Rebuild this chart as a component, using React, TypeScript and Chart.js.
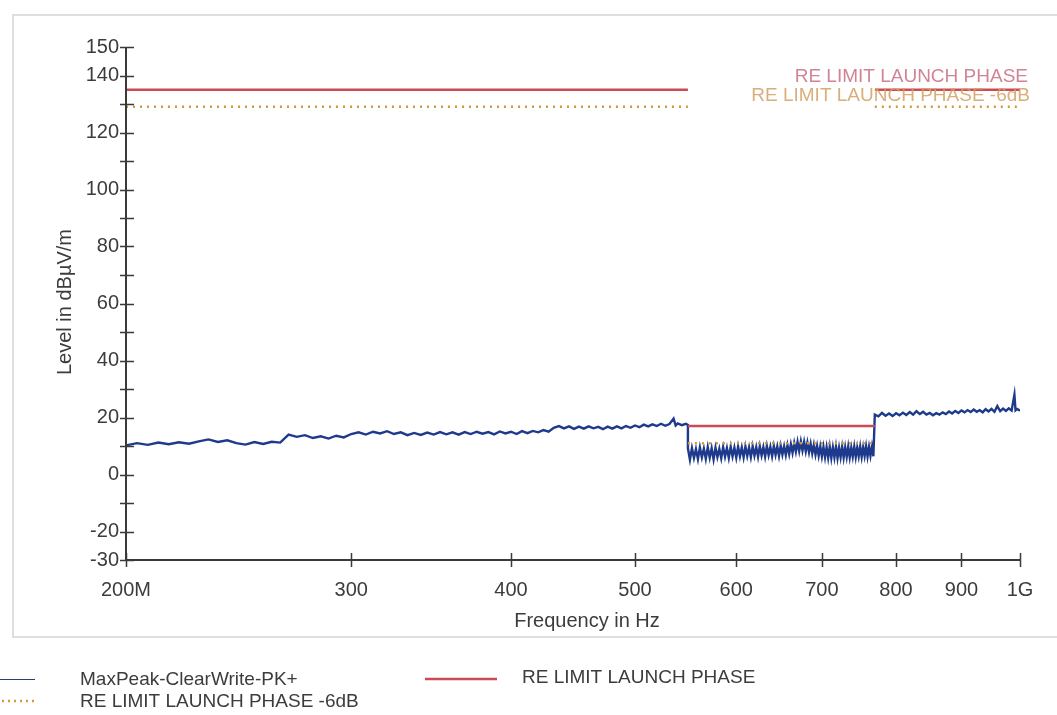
import { useEffect, useRef } from "react";
import { Chart, registerables } from "chart.js";

Chart.register(...registerables);

// ---- Data (frequency in MHz, level in dBµV/m) ----
const TRACE_FREQ = [
  200, 204, 208, 212, 216, 220, 224, 228, 232, 236, 240, 244, 248, 252, 256, 260, 264, 268, 272, 276,
  280, 284, 288, 292, 296, 300, 304, 308, 312, 316, 320, 324, 328, 332, 336, 340, 344, 348, 352, 356,
  360, 364, 368, 372, 376, 380, 384, 388, 392, 396, 400, 404, 408, 412, 416, 420, 424, 428, 432, 436,
  440, 444, 448, 452, 456, 460, 464, 468, 472, 476, 480, 484, 488, 492, 496, 500, 504, 508, 512, 516,
  520, 524, 528, 532, 536, 538, 540, 544, 548, 550,
  550, 552, 554, 556, 558, 560, 562, 564, 566, 568, 570, 572, 574, 576, 578, 580, 582, 584, 586, 588,
  590, 592, 594, 596, 598, 600, 602, 604, 606, 608, 610, 612, 614, 616, 618, 620, 622, 624, 626, 628,
  630, 632, 634, 636, 638, 640, 642, 644, 646, 648, 650, 652, 654, 656, 658, 660, 662, 664, 666, 668,
  670, 672, 674, 676, 678, 680, 682, 684, 686, 688, 690, 692, 694, 696, 698, 700, 702, 704, 706, 708,
  710, 712, 714, 716, 718, 720, 722, 724, 726, 728, 730, 732, 734, 736, 738, 740, 742, 744, 746, 748,
  750, 752, 754, 756, 758, 760, 762, 764, 766, 768,
  770, 775, 780, 785, 790, 795, 800, 805, 810, 815, 820, 825, 830, 835, 840, 845, 850, 855, 860, 865,
  870, 875, 880, 885, 890, 895, 900, 905, 910, 915, 920, 925, 930, 935, 940, 945, 950, 955, 960, 965,
  970, 975, 980, 985, 990, 992, 995, 1000,
];
const TRACE_LEVEL = [
  10.2, 11.0, 10.4, 11.2, 10.6, 11.3, 10.8, 11.6, 12.3, 11.4, 12.0, 11.0, 10.5, 11.4, 10.7, 11.5, 11.2, 14.0, 13.2, 13.8,
  12.8, 13.4, 12.6, 13.6, 13.0, 14.2, 14.8, 14.0, 15.0, 14.4, 15.2, 14.2, 14.8, 13.8, 14.6, 13.9, 14.7, 14.0, 14.9, 14.1,
  14.8, 14.0, 14.9, 14.2, 15.0, 14.3, 14.9, 14.1, 15.1, 14.4, 15.0, 14.2, 15.2, 14.5, 15.3, 14.8, 15.6, 15.0, 16.4, 17.0,
  16.2, 16.9, 16.0, 16.8, 16.1, 16.9, 16.2, 16.7, 15.9, 16.8, 16.1, 16.9, 16.2, 17.0, 16.4, 17.2, 16.6, 17.5, 16.9, 17.6,
  17.0, 17.8, 17.1, 17.7, 19.6, 17.2, 17.9, 17.3, 17.8, 17.4,
  9.2, 5.2, 9.3, 5.8, 8.9, 5.4, 9.5, 6.0, 9.1, 5.5, 9.6, 5.9, 9.2, 5.3, 9.4, 6.1, 9.0, 5.7, 9.6, 6.2,
  9.3, 5.8, 9.7, 6.3, 9.4, 5.9, 9.8, 6.4, 9.5, 6.0, 9.8, 6.5, 9.5, 6.1, 9.9, 6.6, 9.6, 6.2, 9.9, 6.7,
  9.6, 6.3, 10.0, 6.8, 9.7, 6.4, 10.0, 6.9, 9.8, 6.5, 10.1, 7.0, 9.9, 6.8, 10.3, 7.2, 10.6, 7.6, 11.0, 8.0,
  11.4, 8.2, 11.6, 8.4, 11.4, 8.1, 11.2, 7.8, 10.8, 7.4, 10.4, 7.0, 10.0, 6.6, 9.8, 6.3, 9.7, 6.1, 9.6, 5.9,
  9.7, 5.8, 9.5, 6.0, 9.8, 5.8, 9.4, 6.1, 9.7, 5.9, 9.5, 6.2, 9.8, 6.0, 9.4, 6.3, 9.8, 6.1, 9.5, 6.4,
  9.8, 6.2, 9.6, 6.5, 9.9, 6.3, 9.7, 6.6, 9.8, 6.4,
  21.0, 20.4, 21.6, 20.6, 21.4, 20.5, 21.5, 20.8, 21.7, 20.9, 21.9, 21.0, 22.2, 21.2, 22.0, 21.0, 21.6, 20.8, 21.5, 21.0,
  21.8, 21.2, 22.1, 21.4, 22.3, 21.6, 22.5, 21.8, 22.6, 21.9, 22.8, 22.0, 22.6, 21.8, 22.9, 22.1, 23.0, 22.0, 24.0, 22.2,
  23.1, 22.3, 23.2, 22.4, 28.0, 22.5, 23.0, 22.4,
];

const LIMIT_FREQ = [200, 550, 550, 550, 770, 770, 770, 1000];
const LIMIT_LEVEL = [135, 135, null, 17, 17, null, 135, 135];
const LIMIT6_LEVEL = [129, 129, null, 11, 11, null, 129, 129];

const X_TICKS = [200, 300, 400, 500, 600, 700, 800, 900, 1000];
const X_TICK_LABELS = ["200M", "300", "400", "500", "600", "700", "800", "900", "1G"];
const Y_TICKS = [-30, -20, -10, 0, 10, 20, 30, 40, 50, 60, 70, 80, 90, 100, 110, 120, 130, 140, 150];
const Y_LABELED = [-30, -20, 0, 20, 40, 60, 80, 100, 120, 140, 150];

const SERIES_NAMES = ["MaxPeak-ClearWrite-PK+", "RE LIMIT LAUNCH PHASE", "RE LIMIT LAUNCH PHASE -6dB"];

const FONT = "'Liberation Sans', Arial, sans-serif";
const TRACE_COLOR = "#1e3a8c";
const LIMIT_COLOR = "#cc4a55";
const LIMIT6_COLOR = "#d49a3a";

const decor = {
  id: "decor",
  beforeDraw(chart: any) {
    const ctx = chart.ctx;
    ctx.save();
    ctx.fillStyle = "#ffffff";
    ctx.fillRect(0, 0, chart.width, chart.height);
    ctx.strokeStyle = "#dedede";
    ctx.lineWidth = 2;
    ctx.strokeRect(13, 15, 1200, 622);
    ctx.restore();
  },
  afterDraw(chart: any) {
    const ctx = chart.ctx;
    const { left, right, top, bottom } = chart.chartArea;
    const xs = chart.scales.x;
    const ys = chart.scales.y;
    ctx.save();
    // axes
    ctx.strokeStyle = "#3a3a3a";
    ctx.lineWidth = 2;
    ctx.beginPath();
    ctx.moveTo(left, top);
    ctx.lineTo(left, bottom);
    ctx.lineTo(right, bottom);
    ctx.stroke();
    ctx.lineWidth = 1.5;
    ctx.beginPath();
    Y_TICKS.forEach((v) => {
      const py = Math.round(ys.getPixelForValue(v)) + 0.5;
      ctx.moveTo(left - 6, py);
      ctx.lineTo(left + 8, py);
    });
    X_TICKS.forEach((v) => {
      const px = Math.round(xs.getPixelForValue(v)) + 0.5;
      ctx.moveTo(px, bottom - 7);
      ctx.lineTo(px, bottom + 7);
    });
    ctx.stroke();

    // axis titles
    ctx.fillStyle = "#3c3c3c";
    ctx.font = `20px ${FONT}`;
    ctx.textAlign = "center";
    ctx.textBaseline = "middle";
    ctx.fillText("Frequency in Hz", 587, 621);
    ctx.save();
    ctx.translate(65, 302);
    ctx.rotate(-Math.PI / 2);
    ctx.fillText("Level in dBµV/m", 0, 0);
    ctx.restore();

    // limit labels in plot
    ctx.textAlign = "right";
    ctx.font = `19px ${FONT}`;
    ctx.fillStyle = "rgba(200, 110, 130, 0.85)";
    ctx.fillText(SERIES_NAMES[1], 1028, 77);
    ctx.fillStyle = "rgba(212, 160, 100, 0.85)";
    ctx.fillText(SERIES_NAMES[2], 1030, 96);

    // legend
    ctx.textAlign = "left";
    ctx.font = `19px ${FONT}`;
    ctx.fillStyle = "#3c3c3c";
    ctx.strokeStyle = "#2a3f7a";
    ctx.lineWidth = 1;
    ctx.beginPath();
    ctx.moveTo(0, 679.5);
    ctx.lineTo(35, 679.5);
    ctx.stroke();
    ctx.fillText(SERIES_NAMES[0], 80, 680);

    ctx.strokeStyle = LIMIT6_COLOR;
    ctx.lineWidth = 2.5;
    ctx.setLineDash([2, 4]);
    ctx.beginPath();
    ctx.moveTo(2, 701);
    ctx.lineTo(36, 701);
    ctx.stroke();
    ctx.setLineDash([]);
    ctx.fillText(SERIES_NAMES[2], 80, 702);

    ctx.strokeStyle = LIMIT_COLOR;
    ctx.lineWidth = 2.5;
    ctx.beginPath();
    ctx.moveTo(425, 679);
    ctx.lineTo(497, 679);
    ctx.stroke();
    ctx.fillText(SERIES_NAMES[1], 522, 678);
    ctx.restore();
  },
};

export default function App() {
  const ref = useRef<HTMLCanvasElement | null>(null);
  useEffect(() => {
    if (!ref.current) return;
    const trace = TRACE_FREQ.map((f, i) => ({ x: f, y: TRACE_LEVEL[i] }));
    const limit = LIMIT_FREQ.map((f, i) => ({ x: f, y: LIMIT_LEVEL[i] }));
    const limit6 = LIMIT_FREQ.map((f, i) => ({ x: f, y: LIMIT6_LEVEL[i] }));
    const chart = new Chart(ref.current, {
      type: "line",
      data: {
        datasets: [
          {
            label: SERIES_NAMES[2],
            data: limit6 as any,
            borderColor: LIMIT6_COLOR,
            borderWidth: 2.5,
            borderDash: [2, 5],
            pointRadius: 0,
            spanGaps: false,
          },
          {
            label: SERIES_NAMES[1],
            data: limit as any,
            borderColor: LIMIT_COLOR,
            borderWidth: 2.5,
            pointRadius: 0,
            spanGaps: false,
          },
          {
            label: SERIES_NAMES[0],
            data: trace,
            borderColor: TRACE_COLOR,
            borderWidth: 2.4,
            pointRadius: 0,
          },
        ],
      },
      options: {
        animation: false,
        responsive: true,
        maintainAspectRatio: false,
        layout: { padding: { left: 0, top: 47, right: 37, bottom: 0 } },
        plugins: {
          legend: { display: false },
          tooltip: { enabled: false },
          title: { display: false },
        },
        scales: {
          x: {
            type: "logarithmic",
            min: 200,
            max: 1000,
            grid: { display: false, drawTicks: false },
            border: { display: false },
            afterBuildTicks: (scale: any) => {
              scale.ticks = X_TICKS.map((v) => ({ value: v }));
            },
            afterFit: (scale: any) => {
              scale.height = 155;
            },
            ticks: {
              autoSkip: false,
              maxRotation: 0,
              padding: 18,
              color: "#3c3c3c",
              font: { family: FONT, size: 20 },
              callback: (v: any) => {
                const i = X_TICKS.indexOf(Number(v));
                return i >= 0 ? X_TICK_LABELS[i] : "";
              },
            },
          },
          y: {
            type: "linear",
            min: -30,
            max: 150,
            grid: { display: false, drawTicks: false },
            border: { display: false },
            afterBuildTicks: (scale: any) => {
              scale.ticks = Y_TICKS.map((v) => ({ value: v }));
            },
            afterFit: (scale: any) => {
              scale.width = 126;
            },
            ticks: {
              autoSkip: false,
              padding: 7,
              color: "#3c3c3c",
              font: { family: FONT, size: 20 },
              callback: (v: any) => (Y_LABELED.includes(Number(v)) ? String(v) : ""),
            },
          },
        },
      },
      plugins: [decor],
    });
    return () => chart.destroy();
  }, []);
  return (
    <div style={{ position: "absolute", left: 0, top: 0, width: 1057, height: 715, background: "#fff" }}>
      <canvas ref={ref} />
    </div>
  );
}
